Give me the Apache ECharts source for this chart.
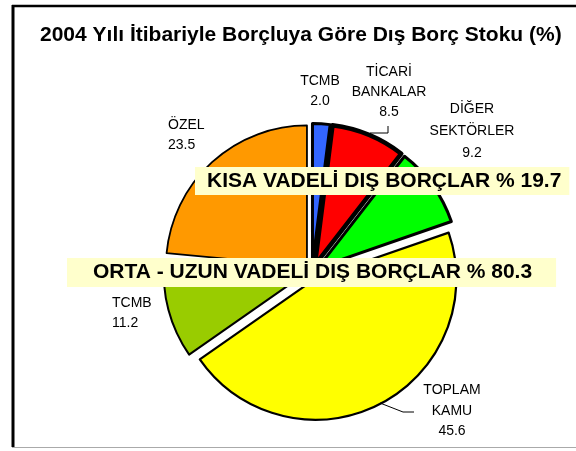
<!DOCTYPE html>
<html>
<head>
<meta charset="utf-8">
<script src="https://cdn.jsdelivr.net/npm/echarts@6/dist/echarts.min.js"></script>
<style>
html, body { margin: 0; padding: 0; background: #fff; }
#main { width: 576px; height: 451px; }
</style>
</head>
<body>
<div id="main"></div>
<script>
// dilimler, saat 12'den saat yönünde
var sliceNames = ['TCMB', 'TİCARİ\nBANKALAR', 'DİĞER\nSEKTÖRLER', 'TOPLAM\nKAMU', 'TCMB', 'ÖZEL'];
var sliceValues = [2.0, 8.5, 9.2, 45.6, 11.2, 23.5];
var sliceColors = ['#3366ff', '#ff0000', '#00ff00', '#ffff00', '#99cc00', '#ff9900'];
var sliceBorders = [3, 4.5, 3, 2.2, 2, 1.8];
var groupNames = ['KISA VADELİ DIŞ BORÇLAR', 'ORTA - UZUN VADELİ DIŞ BORÇLAR'];
var groupTotals = [19.7, 80.3];

var font = 'Liberation Sans, Arial, sans-serif';

// etiket yerleri: x, üst y, hizalama, satır aralığı
var labelPos = [
  [320, 71, 'center', 20],
  [389, 62, 'center', 20],
  [472, 98, 'center', 22],
  [452, 380, 'center', 20.5],
  [112, 293, 'left', 20],
  [168, 115, 'left', 20]
];
// sadece iki etiketin çizgisi var
var labelLines = {
  1: [[370, 133], [388, 133], [388, 126]],
  3: [[380, 403], [403, 412], [414, 412]]
};

var pieData = [];
for (var i = 0; i < sliceValues.length; i++) {
  var st = { color: sliceColors[i], borderColor: '#000', borderWidth: sliceBorders[i] };
  pieData.push({
    name: sliceNames[i],
    value: sliceValues[i],
    selected: true,
    itemStyle: st,
    select: { itemStyle: st }
  });
}

var graphics = [
  { type: 'line', shape: { x1: 13, y1: 5, x2: 13, y2: 447 }, style: { stroke: '#000', lineWidth: 3 } },
  { type: 'line', shape: { x1: 12, y1: 6, x2: 576, y2: 6 }, style: { stroke: '#000', lineWidth: 2.5 } },
  { type: 'line', shape: { x1: 12, y1: 447.5, x2: 576, y2: 447.5 }, style: { stroke: '#aaa', lineWidth: 1 } }
];
for (var j = 0; j < sliceValues.length; j++) {
  var p = labelPos[j];
  graphics.push({
    type: 'text', x: p[0], y: p[1], z: 10,
    style: {
      text: sliceNames[j] + '\n' + sliceValues[j].toFixed(1),
      font: '14px ' + font, lineHeight: p[3],
      fill: '#000', align: p[2], verticalAlign: 'top'
    }
  });
  if (labelLines[j]) {
    graphics.push({
      type: 'polyline', z: 10,
      shape: { points: labelLines[j] },
      style: { stroke: '#000', lineWidth: 1, fill: null }
    });
  }
}

var myChart = echarts.init(document.getElementById('main'));
var option = {
  animation: false,
  backgroundColor: '#fff',
  title: [
    {
      text: '2004 Yılı İtibariyle Borçluya Göre Dış Borç Stoku (%)',
      left: 35, top: 20,
      textStyle: { fontFamily: font, fontSize: 21, fontWeight: 'bold', color: '#000' }
    },
    {
      text: groupNames[0] + ' % ' + groupTotals[0].toFixed(1),
      left: 195, top: 167,
      backgroundColor: '#ffffcc',
      padding: [3, 8, 3, 12],
      textStyle: { fontFamily: font, fontSize: 21, fontWeight: 'bold', color: '#000', lineHeight: 22 }
    },
    {
      text: groupNames[1] + ' % ' + groupTotals[1].toFixed(1),
      left: 67, top: 258,
      backgroundColor: '#ffffcc',
      padding: [3, 24, 4, 26],
      textStyle: { fontFamily: font, fontSize: 21, fontWeight: 'bold', color: '#000', lineHeight: 22 }
    }
  ],
  graphic: graphics,
  series: [{
    type: 'pie',
    center: [312, 272],
    radius: 141,
    startAngle: 90,
    clockwise: true,
    selectedMode: 'multiple',
    selectedOffset: 7.5,
    emphasis: { disabled: true },
    label: { show: false },
    labelLine: { show: false },
    data: pieData
  }]
};
myChart.setOption(option);
</script>
</body>
</html>
